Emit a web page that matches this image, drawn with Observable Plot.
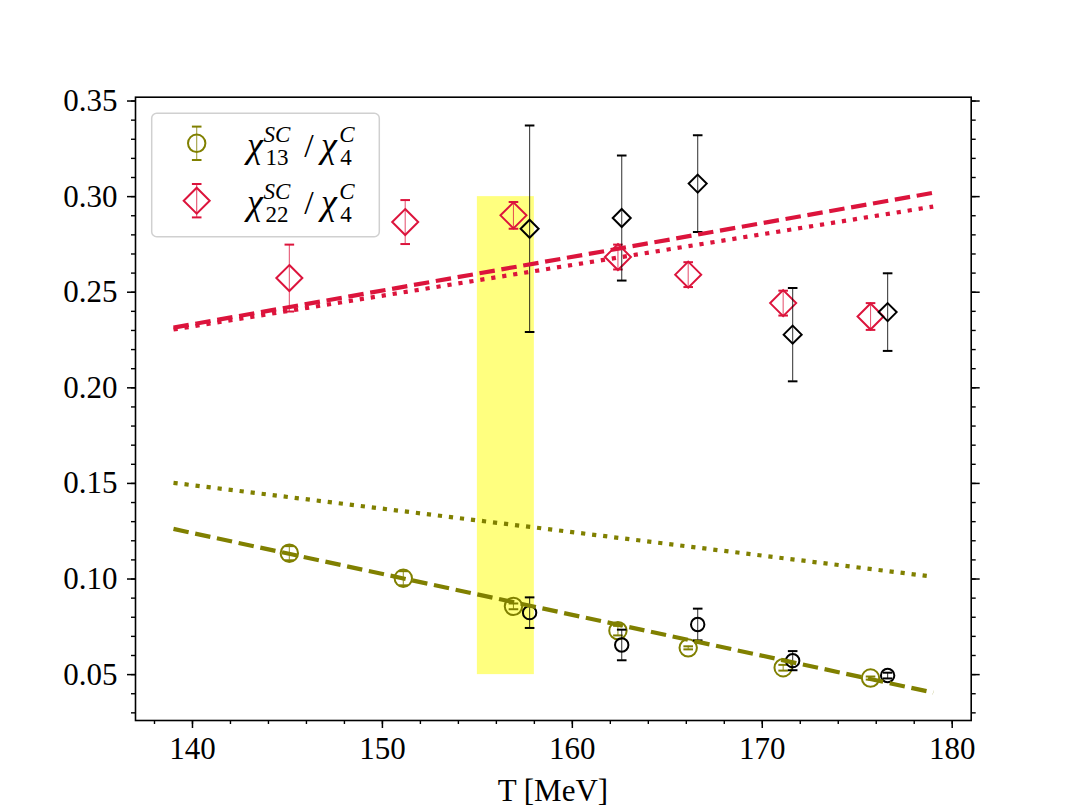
<!DOCTYPE html>
<html><head><meta charset="utf-8">
<script src="https://cdn.jsdelivr.net/npm/d3@7"></script>
<script src="https://cdn.jsdelivr.net/npm/@observablehq/plot@0.6"></script>
<style>body{margin:0;background:#fff}#chart{width:1079px;height:809px}</style>
</head><body><div id="chart"></div>
<script>
// chi13/chi4 (olive circles)
const t13 = [145.1, 151.1, 156.9, 162.4, 166.1, 171.1, 175.7];
const v13 = [0.1135, 0.1004, 0.0857, 0.0730, 0.0640, 0.0536, 0.0482];
const e13 = [0.0037, 0.0037, 0.0015, 0.0025, 0.0008, 0.0015, 0.0008];
// chi22/chi4 (crimson diamonds)
const t22 = [145.1, 151.2, 156.9, 162.4, 166.1, 171.1, 175.7];
const v22 = [0.2574, 0.2867, 0.2902, 0.2684, 0.2592, 0.2443, 0.2373];
const e22 = [0.0175, 0.0115, 0.0070, 0.0065, 0.0065, 0.0065, 0.0070];
// second data set (black)
const tB = [157.75, 162.6, 166.6, 171.6, 176.6];
const vB13 = [0.0824, 0.0655, 0.0762, 0.0573, 0.0495];
const eB13 = [0.0080, 0.0080, 0.0083, 0.0050, 0.0015];
const vB22 = [0.2832, 0.2888, 0.3068, 0.2278, 0.2396];
const eB22 = [0.0540, 0.0327, 0.0253, 0.0244, 0.0203];
// model lines
const lineT = [139, 179];
const l22Dashed = [0.2315, 0.3020];
const l22Dotted = [0.2305, 0.2948];
const l13Dashed = [0.1262, 0.0406];
const l13Dotted = [0.1503, 0.1012];
// highlighted band
const bandT = [155, 158];
const bandV = [0.05, 0.30];
// ticks
const xMajor = [140, 150, 160, 170, 180];
const xMinor = d3.range(138, 181.5, 2);
const yMajor = [0.05, 0.10, 0.15, 0.20, 0.25, 0.30, 0.35];
const yMinor = d3.range(3, 35.5, 1).map(d => d / 100);

const OLIVE = "#808000", RED = "#dc143c", BLACK = "#000000";

const rows = (t, v, e) => t.map((x, i) => ({t: x, v: v[i], e: e[i]}));
const lineRows = (v) => lineT.map((x, i) => ({t: x, v: v[i]}));
const d13 = rows(t13, v13, e13), d22 = rows(t22, v22, e22);
const dB13 = rows(tB, vB13, eB13), dB22 = rows(tB, vB22, eB22);

const diamond = {draw(ctx, size) { const r = Math.sqrt(size / Math.PI); ctx.moveTo(0, -r); ctx.lineTo(r, 0); ctx.lineTo(0, r); ctx.lineTo(-r, 0); ctx.closePath(); }};
const cap = {draw(ctx, size) { const r = Math.sqrt(size / Math.PI); ctx.moveTo(-r, 0); ctx.lineTo(r, 0); }};

function errMarks(data, color, sym, r, lineOpacity) {
  return [
    Plot.ruleX(data, {x: "t", y1: d => d.v - d.e, y2: d => d.v + d.e, stroke: color, strokeWidth: 1.1, strokeOpacity: lineOpacity}),
    Plot.dot(data, {x: "t", y: d => d.v + d.e, symbol: cap, r: 4.8, stroke: color, strokeWidth: 2}),
    Plot.dot(data, {x: "t", y: d => d.v - d.e, symbol: cap, r: 4.8, stroke: color, strokeWidth: 2}),
    Plot.dot(data, {x: "t", y: "v", symbol: sym, r: r, stroke: color, strokeWidth: 2, fill: "none"})
  ];
}
const lineMark = (v, color, dash) => Plot.line(lineRows(v), {x: "t", y: "v", stroke: color, strokeWidth: 4.2, strokeDasharray: dash, strokeLinecap: "butt"});

const chart = Plot.plot({
  width: 1079, height: 809,
  marginLeft: 135, marginRight: 108.3, marginTop: 96.7, marginBottom: 89,
  x: {domain: [137, 181], label: null},
  y: {domain: [0.026, 0.352], label: null},
  style: {fontFamily: "Liberation Serif, serif", fontSize: "31px", color: "black", background: "white"},
  marks: [
    Plot.rect([{x1: bandT[0], x2: bandT[1], y1: bandV[0], y2: bandV[1]}], {x1: "x1", x2: "x2", y1: "y1", y2: "y2", fill: "#ffff00", fillOpacity: 0.5}),
    ...errMarks(d13, OLIVE, "circle", 8.7, 0.8),
    ...errMarks(d22, RED, diamond, 13, 0.7),
    ...errMarks(dB13, BLACK, "circle", 6.7, 0.75),
    ...errMarks(dB22, BLACK, diamond, 9, 0.75),
    lineMark(l22Dashed, RED, "15.5,6.7"),
    lineMark(l22Dotted, RED, "4.2,6.9"),
    lineMark(l13Dashed, OLIVE, "15.5,6.7"),
    lineMark(l13Dotted, OLIVE, "4.2,6.9"),
    Plot.axisY(yMinor, {anchor: "left", tickSize: 4, tickFormat: () => "", label: null, strokeWidth: 1.4}),
    Plot.axisY(yMajor, {anchor: "left", tickSize: 8, tickPadding: 10, tickFormat: d3.format(".2f"), fontSize: 31, label: null, strokeWidth: 1.5}),
    Plot.axisY(yMinor, {anchor: "right", tickSize: 4, tickFormat: () => "", label: null, strokeWidth: 1.4}),
    Plot.axisY(yMajor, {anchor: "right", tickSize: 8, tickFormat: () => "", label: null, strokeWidth: 1.5}),
    Plot.axisX(xMinor, {anchor: "bottom", tickSize: 4, tickFormat: () => "", label: null, strokeWidth: 1.4}),
    Plot.axisX(xMajor, {anchor: "bottom", tickSize: 8, tickPadding: 8, tickFormat: d => String(d), fontSize: 31, label: null, strokeWidth: 1.5}),
    Plot.frame({stroke: "black", strokeWidth: 1.6})
  ]
});
document.getElementById("chart").appendChild(chart);

// x-axis title and legend
const svg = d3.select(chart);
svg.append("text").attr("x", 552.9).attr("y", 801).attr("text-anchor", "middle")
  .attr("font-size", 31).attr("fill", "black").text("T [MeV]");

const lg = svg.append("g");
lg.append("rect").attr("x", 151.7).attr("y", 113.3).attr("width", 227.6).attr("height", 123.4)
  .attr("rx", 5).attr("fill", "white").attr("fill-opacity", 0.8).attr("stroke", "#d0d0d0").attr("stroke-width", 1.5);

const legendItems = [
  {color: OLIVE, shape: "circle", sub: "13", dy: 0},
  {color: RED, shape: "diamond", sub: "22", dy: 57.4}
];
legendItems.forEach(it => {
  const g = lg.append("g").attr("transform", `translate(0,${it.dy})`);
  const cx = 196.7, cy = 143.3, eh = 16.7;
  g.append("line").attr("x1", cx).attr("x2", cx).attr("y1", cy - eh).attr("y2", cy + eh).attr("stroke", it.color).attr("stroke-width", 1.1).attr("stroke-opacity", 0.75);
  [cy - eh, cy + eh].forEach(y => g.append("line").attr("x1", cx - 4.8).attr("x2", cx + 4.8).attr("y1", y).attr("y2", y).attr("stroke", it.color).attr("stroke-width", 2));
  if (it.shape === "circle") g.append("circle").attr("cx", cx).attr("cy", cy).attr("r", 8.7).attr("fill", "none").attr("stroke", it.color).attr("stroke-width", 2);
  else g.append("path").attr("d", `M${cx},${cy - 13}L${cx + 13},${cy}L${cx},${cy + 13}L${cx - 13},${cy}Z`).attr("fill", "none").attr("stroke", it.color).attr("stroke-width", 2);
  const T = (x, y, s, size, italic) => g.append("text").attr("x", x).attr("y", y).attr("font-size", size)
    .attr("font-style", italic ? "italic" : "normal").attr("fill", "black").text(s);
  T(255, 157, "χ", 36, true);
  T(277, 142, "SC", 23, true);
  T(277, 165, it.sub, 23, false);
  T(309, 157, "/", 34, false);
  T(329, 157, "χ", 36, true);
  T(347, 142, "C", 23, true);
  T(346, 165, "4", 23, false);
});
</script>
</body></html>
